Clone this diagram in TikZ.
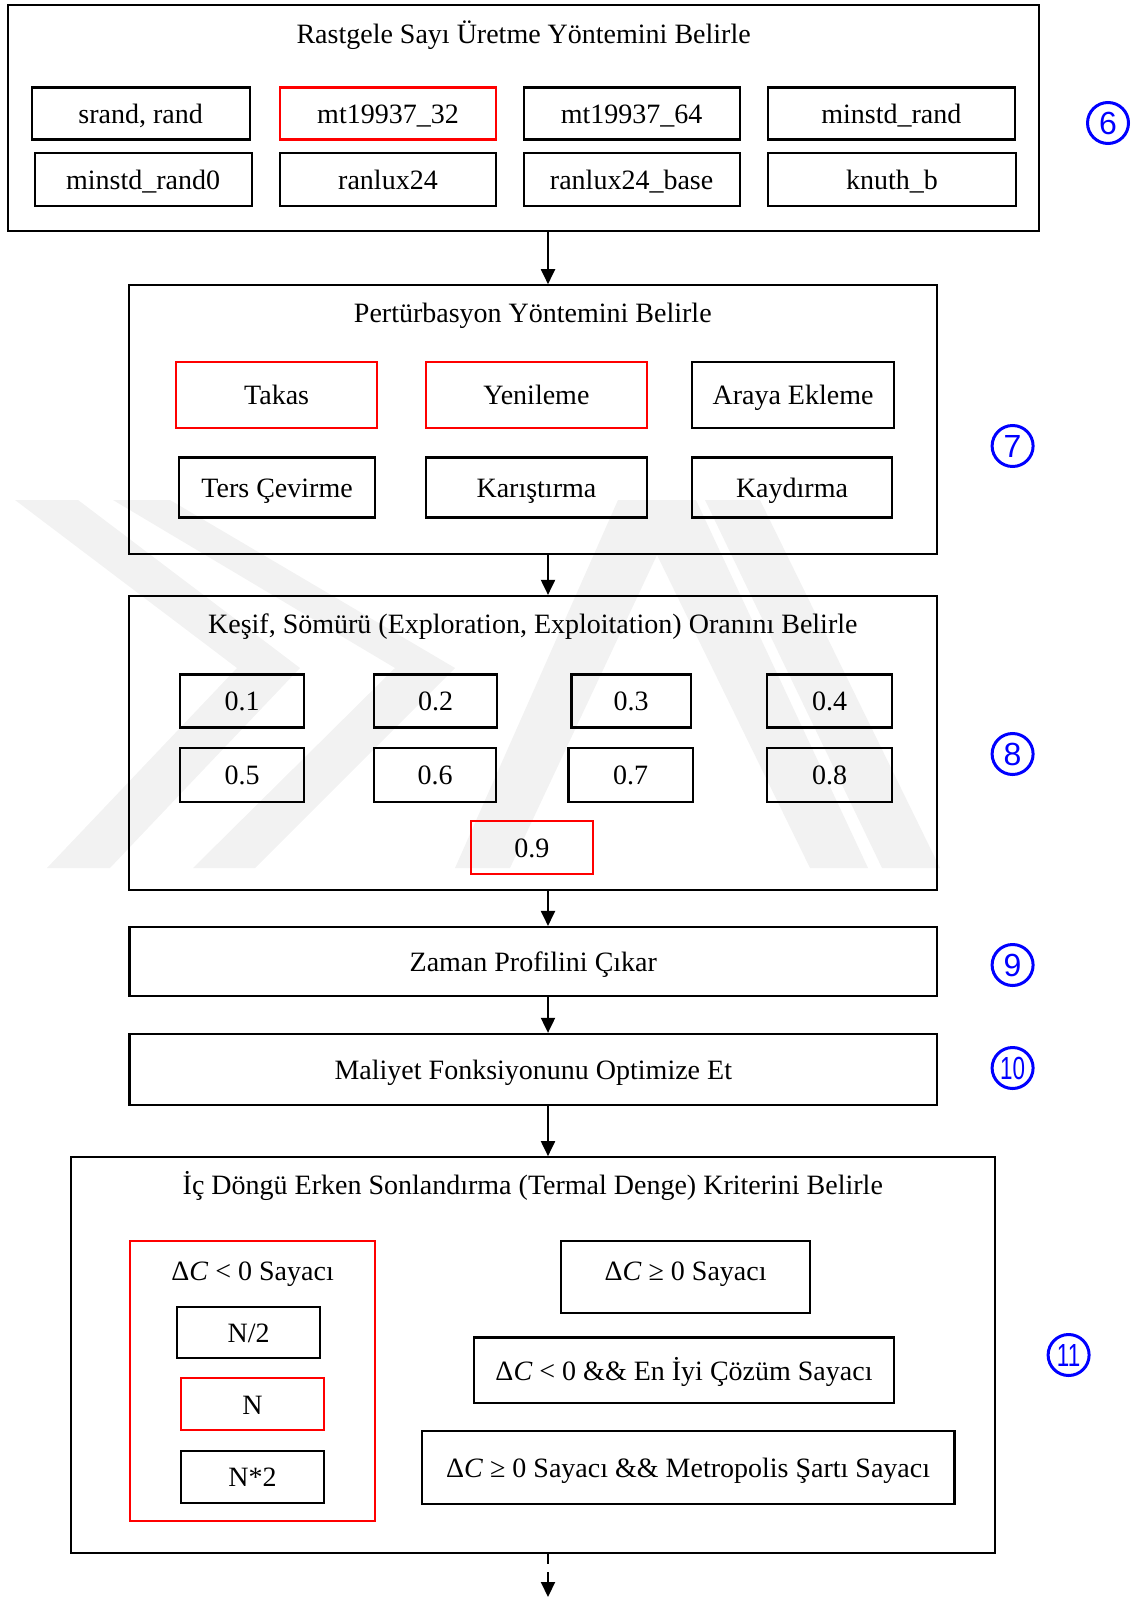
\documentclass[tikz,border=0pt]{standalone}
\usepackage{fontspec}
\setmainfont{Liberation Serif}
\newfontfamily\digitfont{Liberation Sans}
\usetikzlibrary{arrows.meta}
\newcommand\dC{Δ\textit{C}}
\begin{document}
\begin{tikzpicture}[x=1pt,y=-1pt,
  every node/.style={font=\fontsize{28}{32}\selectfont},
  frame/.style={draw=black, line width=2pt, inner sep=0pt},
  item/.style={draw=black, line width=2.2pt, inner sep=0pt, text height=23.5pt, text depth=3.5pt},
  pick/.style={item, draw=red},
  title/.style={inner sep=0pt, text height=23.5pt, text depth=3.5pt},
  badge/.style={circle, draw=blue, text=blue, line width=3pt, minimum size=41pt, inner sep=0pt,
    font=\digitfont\fontsize{32}{32}\selectfont},
  link/.style={draw=black, line width=2pt, -{Triangle[length=15pt,width=14pt]}},
  shade/.style={fill=black!5, draw=none}]

\useasboundingbox (0,0) rectangle (1145,1597);

% faint background emblem
\fill[shade] (15,500) -- (78,500) -- (300,668) -- (110,868) -- (47,868) -- (237,668) -- cycle;
\fill[shade] (113,500) -- (170,500) -- (455,668) -- (255,868) -- (193,868) -- (395,668) -- cycle;
\fill[shade] (455,868) -- (618,500) -- (696,500) -- (868,868) -- (810,868) -- (657,555) -- (510,868) -- cycle;
\fill[shade] (705,500) -- (760,500) -- (940,868) -- (882,868) -- cycle;

\coordinate (ax) at (548,0);

% --- random number generator choice
\node[frame, minimum width=1031, minimum height=226] (c6) at (523.6,118) {};
\node[title] (t6) at (523.6,33.6) {Rastgele Sayı Üretme Yöntemini Belirle};
\node[item, minimum width=218, minimum height=52] (g1) at (140.6,113.6) {srand, rand};
\node[pick, minimum width=216, minimum height=52] (g2) at (388,113.6) {mt19937\_32};
\node[item, minimum width=216, minimum height=52] (g3) at (631.6,113.6) {mt19937\_64};
\node[item, minimum width=246.5, minimum height=52] (g4) at (891.4,113.6) {minstd\_rand};
\node[item, minimum width=217, minimum height=53] (g5) at (143.1,179.3) {minstd\_rand0};
\node[item, minimum width=216, minimum height=53] (g6) at (388,179.3) {ranlux24};
\node[item, minimum width=216, minimum height=53] (g7) at (631.6,179.3) {ranlux24\_base};
\node[item, minimum width=247.5, minimum height=53] (g8) at (891.9,179.3) {knuth\_b};
\node[badge] (b6) at (1108,123) {6};

% --- perturbation method
\node[frame, minimum width=807.8, minimum height=269] (c7) at (533.3,419.7) {};
\node[title] (t7) at (532.8,312.7) {Pertürbasyon Yöntemini Belirle};
\node[pick, minimum width=200.7, minimum height=66.3] (p1) at (276.6,394.8) {Takas};
\node[pick, minimum width=221, minimum height=66.3] (p2) at (536.4,394.8) {Yenileme};
\node[item, minimum width=202.7, minimum height=66.3] (p3) at (793,394.8) {Araya Ekleme};
\node[item, minimum width=195.6, minimum height=60] (p4) at (277.1,487.4) {Ters Çevirme};
\node[item, minimum width=221, minimum height=60] (p5) at (536.4,487.4) {Karıştırma};
\node[item, minimum width=200.7, minimum height=60] (p6) at (792,487.4) {Kaydırma};
\node[badge] (b7) at (1012.6,446) {7};

% --- exploration / exploitation ratio
\node[frame, minimum width=807.8, minimum height=294.4] (c8) at (533.3,743.1) {};
\node[title] (t8) at (532.8,623.4) {Keşif, Sömürü (Exploration, Exploitation) Oranını Belirle};
\node[item, minimum width=123.3, minimum height=53] (r1) at (242,700.9) {0.1};
\node[item, minimum width=123.3, minimum height=53] (r2) at (435.5,700.9) {0.2};
\node[item, minimum width=119.2, minimum height=53] (r3) at (631.1,700.9) {0.3};
\node[item, minimum width=125.3, minimum height=53] (r4) at (829.7,700.9) {0.4};
\node[item, minimum width=123.3, minimum height=54] (r5) at (242,774.7) {0.5};
\node[item, minimum width=122.2, minimum height=54] (r6) at (435,774.7) {0.6};
\node[item, minimum width=124.3, minimum height=54] (r7) at (630.6,774.7) {0.7};
\node[item, minimum width=125.3, minimum height=54] (r8) at (829.7,774.7) {0.8};
\node[pick, minimum width=122.2, minimum height=53] (r9) at (531.8,847.5) {0.9};
\node[badge] (b8) at (1012.6,754) {8};

% --- time profile
\node[item, minimum width=807.8, minimum height=69.3] (c9) at (533.3,961.7) {Zaman Profilini Çıkar};
\node[badge] (b9) at (1012.6,965) {9};

% --- cost function
\node[item, minimum width=807.8, minimum height=71.3] (c10) at (533.3,1069.6) {Maliyet Fonksiyonunu Optimize Et};
\node[badge] (b10) at (1012.6,1068) {\scalebox{0.7}[1]{10}};

% --- inner loop termination
\node[frame, minimum width=924, minimum height=396.3] (c11) at (533.3,1355.3) {};
\node[title] (t11) at (532.8,1184.7) {İç Döngü Erken Sonlandırma (Termal Denge) Kriterini Belirle};
\node[draw=red, line width=2.2pt, inner sep=0pt, minimum width=244.5, minimum height=280.1] (grp) at (252.6,1380.8) {};
\node[title] (grplbl) at (252.6,1270.3) {\dC{} < 0 Sayacı};
\node[item, minimum width=142.6, minimum height=51] (n1) at (248.6,1332.4) {N/2};
\node[pick, minimum width=142.6, minimum height=52] (n2) at (252.6,1404.3) {N};
\node[item, minimum width=142.6, minimum height=52] (n3) at (252.6,1476.6) {N*2};
\node[item, minimum width=248.6, minimum height=72.3, text depth=17.5pt] (k1) at (685.6,1277) {\dC{} ≥ 0 Sayacı};
\node[item, minimum width=420.7, minimum height=65.2] (k2) at (684,1370.1) {\dC{} < 0 \&\& En İyi Çözüm Sayacı};
\node[item, minimum width=532.8, minimum height=72.3] (k3) at (688.1,1467.5) {\dC{} ≥ 0 Sayacı \&\& Metropolis Şartı Sayacı};
\node[badge] (b11) at (1068.6,1355) {\scalebox{0.7}[1]{11}};

% --- flow
\coordinate (out) at (548,1597);
\draw[link] (c6.south -| ax) -- (c7.north -| ax);
\draw[link] (c7.south -| ax) -- (c8.north -| ax);
\draw[link] (c8.south -| ax) -- (c9.north -| ax);
\draw[link] (c9.south -| ax) -- (c10.north -| ax);
\draw[link] (c10.south -| ax) -- (c11.north -| ax);
\draw[link, dash pattern=on 10pt off 8pt on 40pt] (c11.south -| ax) -- (out);
\end{tikzpicture}
\end{document}
